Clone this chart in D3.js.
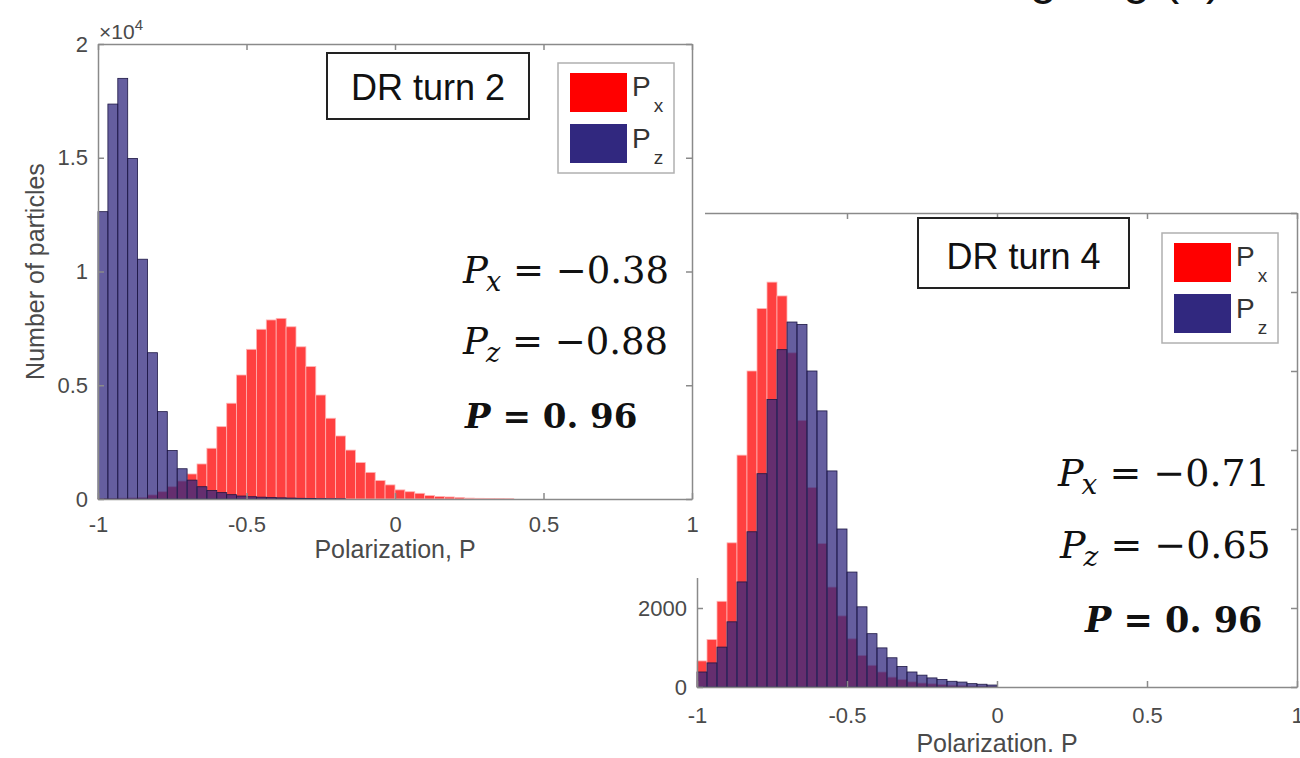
<!DOCTYPE html>
<html>
<head>
<meta charset="utf-8">
<script src="https://cdn.jsdelivr.net/npm/d3@7"></script>
<style>
body { margin: 0; background: #fff; }
text { font-family: Arial, "Liberation Sans", sans-serif; }
.eq { font-family: "DejaVu Serif", serif; }
</style>
</head>
<body>
<svg id="chart" width="1300" height="758"></svg>
<script>
// histogram bins: 60 equal bins over P = -1 .. 1, counts listed from P = -1
var binCount = 60;
var xTicks = [-1, -0.5, 0, 0.5, 1];

// DR turn 2
var turn2Px = [20, 30, 40, 50, 70, 180, 320, 540, 790, 1100, 1540, 2230, 3180, 4210, 5450, 6580,
    7460, 7870, 7940, 7570, 6690, 5820, 4570, 3550, 2770, 2150, 1600, 1170, 810, 620, 400, 320,
    250, 150, 110, 90, 70, 40, 30, 20, 15, 10];
var turn2Pz = [12630, 17360, 18490, 14970, 10540, 6430, 3840, 2130, 1330, 830, 540, 370, 280,
    190, 130, 100, 80, 60, 50, 40, 30, 20, 15, 10, 8];
var turn2Ticks = [0, 5000, 10000, 15000, 20000];

// DR turn 4
var turn4Px = [660, 1200, 2170, 3650, 5870, 8000, 9580, 10250, 9900, 8460, 6750, 5050, 3630,
    2530, 1800, 1220, 800, 550, 380, 250, 190, 130, 100, 80, 60, 45, 35, 25, 20, 15];
var turn4Pz = [380, 610, 1010, 1650, 2660, 3930, 5400, 7280, 8540, 9240, 9180, 8000, 6990,
    5470, 4000, 2910, 2030, 1350, 990, 740, 520, 380, 300, 230, 190, 145, 125, 85, 70, 50];
var turn4Ticks = [0, 2000, 4000, 6000, 8000, 10000, 12000];

var svg = d3.select("#chart");
var binW = 2 / binCount;
var frontBottom = 578;   // lower edge of the turn-2 panel that hides part of turn 4

function styleAxis(sel) {
    sel.selectAll("path, line").attr("stroke", "#8a8a8a").attr("stroke-width", 1.5);
    sel.selectAll("text").attr("fill", "#4a4a4a").style("font-size", "22px");
}

function drawPanel(g, o) {
    var x = d3.scaleLinear().domain([-1, 1]).range([o.left, o.left + o.width]);
    var y = d3.scaleLinear().domain([0, o.yMax]).range([o.top + o.height, o.top]);

    // bars: red series first, blue drawn over it
    [[o.px, "#ff0000", "#ffb4b4"], [o.pz, "#31287f", "#1d1744"]].forEach(function (s) {
        g.append("g").selectAll("rect")
            .data(s[0])
            .enter().append("rect")
            .attr("x", function (d, i) { return x(-1 + i * binW); })
            .attr("width", x(binW) - x(0))
            .attr("y", function (d) { return y(d); })
            .attr("height", function (d) { return y(0) - y(d); })
            .attr("fill", s[1]).attr("fill-opacity", 0.75)
            .attr("stroke", s[2]).attr("stroke-width", 0.8);
    });

    // box with inward ticks on all four sides
    g.append("g").attr("transform", "translate(0," + y(0) + ")")
        .call(d3.axisBottom(x).tickValues(xTicks).tickSize(-6).tickSizeOuter(0).tickPadding(o.xPad)
            .tickFormat(function (d) { return String(d); }))
        .call(styleAxis);
    g.append("g").attr("transform", "translate(0," + y(o.yMax) + ")")
        .call(d3.axisTop(x).tickValues(xTicks).tickSize(-6).tickSizeOuter(0).tickFormat(""))
        .call(styleAxis);
    g.append("g").attr("transform", "translate(" + x(-1) + ",0)")
        .call(d3.axisLeft(y).tickValues(o.yTicks).tickSize(-6).tickSizeOuter(0).tickPadding(10)
            .tickFormat(function (d) { return o.yFormat(d, y(d)); }))
        .call(styleAxis);
    g.append("g").attr("transform", "translate(" + x(1) + ",0)")
        .call(d3.axisRight(y).tickValues(o.yTicks).tickSize(-6).tickSizeOuter(0).tickFormat(""))
        .call(styleAxis);

    g.append("text")
        .attr("x", x(0)).attr("y", y(0) + o.xLabelDy)
        .attr("text-anchor", "middle")
        .attr("fill", "#4a4a4a").style("font-size", "25px")
        .text(o.xLabel);

    // title box
    g.append("rect")
        .attr("x", o.title.x).attr("y", o.title.y)
        .attr("width", o.title.w).attr("height", o.title.h)
        .attr("fill", "#fff").attr("stroke", "#222").attr("stroke-width", 2);
    g.append("text")
        .attr("x", o.title.x + o.title.w / 2).attr("y", o.title.y + o.title.h - 19)
        .attr("text-anchor", "middle").style("font-size", "36px").attr("fill", "#111")
        .text(o.title.text);

    // legend
    var lg = g.append("g").attr("transform", "translate(" + o.legend[0] + "," + o.legend[1] + ")");
    lg.append("rect").attr("width", 116).attr("height", 110)
        .attr("fill", "#fff").attr("stroke", "#b0b0b0").attr("stroke-width", 1.5);
    [["#ff0000", "x"], ["#31287f", "z"]].forEach(function (s, i) {
        lg.append("rect").attr("x", 12).attr("y", 10 + i * 51)
            .attr("width", 57).attr("height", 39).attr("fill", s[0]);
        var t = lg.append("text").attr("x", 74).attr("y", 33 + i * 52)
            .attr("fill", "#333").style("font-size", "28px");
        t.append("tspan").text("P");
        t.append("tspan").attr("dx", 3).attr("dy", 16).style("font-size", "19px").text(s[1]);
    });

    // polarization values
    o.eqs.forEach(function (e) {
        var t = g.append("text").attr("class", "eq")
            .attr("x", e.x).attr("y", e.y)
            .attr("fill", "#111").style("font-size", o.eqSize + "px");
        if (e.bold) {
            t.style("font-size", (o.eqSize - 3) + "px");
            t.append("tspan").style("font-style", "italic").style("font-weight", "bold").text("P");
            t.append("tspan").style("font-weight", "bold").text(" = 0. 96");
        } else {
            t.append("tspan").style("font-style", "italic").text("P");
            t.append("tspan").style("font-style", "italic").style("font-size", (o.eqSize - 10) + "px")
                .attr("dx", -2).attr("dy", 8).text(e.sub);
            t.append("tspan").attr("dy", -8).text(" = \u2212" + e.val);
        }
    });
    return { x: x, y: y };
}

// slide heading, only its descenders show at the top edge
svg.append("text")
    .attr("x", 1222).attr("y", -6)
    .attr("text-anchor", "end").style("font-size", "48px").attr("fill", "#111")
    .text("Tracking ring (a)");

// DR turn 4 (behind)
drawPanel(svg.append("g"), {
    left: 697, top: 213, width: 600, height: 474,
    yMax: 12000, yTicks: turn4Ticks,
    // labels under the turn-2 panel are hidden there
    yFormat: function (d, py) { return py > frontBottom ? String(d) : ""; },
    px: turn4Px, pz: turn4Pz, xLabel: "Polarization. P", xPad: 20, xLabelDy: 65,
    title: { x: 918, y: 218, w: 211, h: 70, text: "DR turn 4" },
    legend: [1162, 233], eqSize: 38,
    eqs: [
        { x: 1058, y: 486, sub: "x", val: "0.71" },
        { x: 1060, y: 558, sub: "z", val: "0.65" },
        { x: 1085, y: 632, bold: true }
    ]
});

// DR turn 2 (in front, on its own white panel)
var front = svg.append("g");
front.append("rect").attr("x", 0).attr("y", 0).attr("width", 705).attr("height", frontBottom).attr("fill", "#fff");
var p2 = drawPanel(front, {
    left: 98, top: 44, width: 594, height: 455,
    yMax: 20000, yTicks: turn2Ticks, yFormat: function (d) { return String(d / 10000); },
    px: turn2Px, pz: turn2Pz, xLabel: "Polarization, P", xPad: 17, xLabelDy: 59,
    title: { x: 327, y: 53, w: 202, h: 66, text: "DR turn 2" },
    legend: [558, 63], eqSize: 37,
    eqs: [
        { x: 463, y: 283, sub: "x", val: "0.38" },
        { x: 463, y: 354, sub: "z", val: "0.88" },
        { x: 465, y: 428, bold: true }
    ]
});

front.append("text")
    .attr("transform", "translate(44," + p2.y(10000) + ") rotate(-90)")
    .attr("text-anchor", "middle").attr("fill", "#4a4a4a").style("font-size", "25px")
    .text("Number of particles");

var mult = front.append("text").attr("x", 99).attr("y", 39)
    .attr("fill", "#4a4a4a").style("font-size", "21px");
mult.append("tspan").text("\u00d710");
mult.append("tspan").attr("dy", -9).style("font-size", "15px").text("4");
</script>
</body>
</html>
